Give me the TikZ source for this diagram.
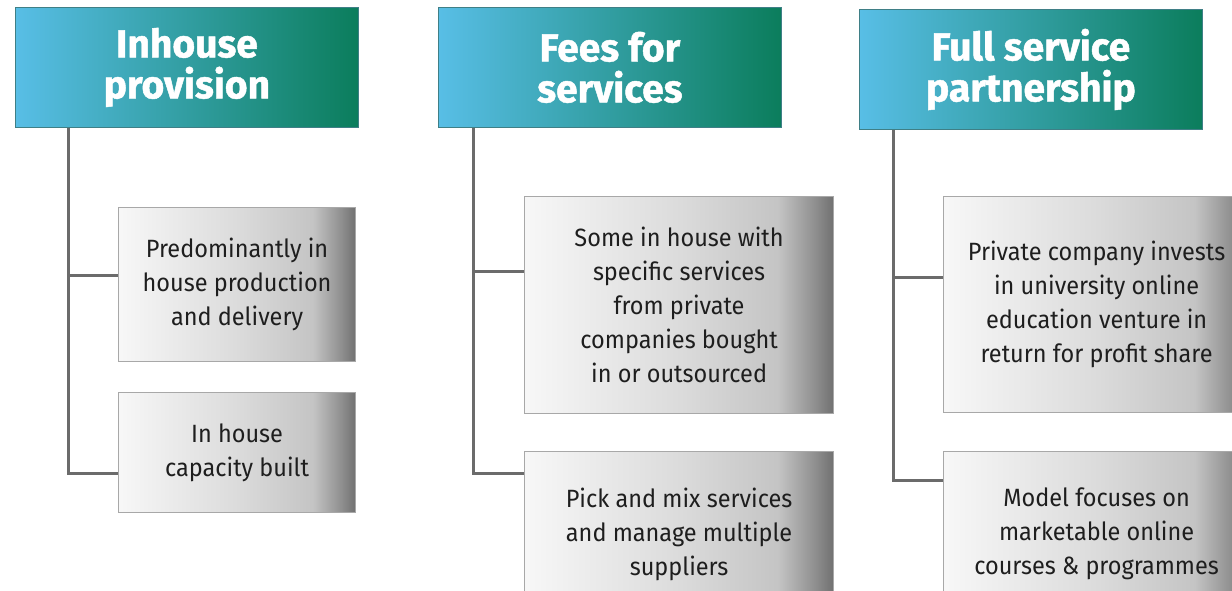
\documentclass[tikz,border=0pt]{standalone}
\usepackage{fontspec}
\setmainfont{Fira Sans}
\newfontfamily\bodyfont[FakeStretch=0.94]{Fira Sans}
\newfontfamily\headfont[FakeBold=1.2]{Fira Sans}
\definecolor{hdleft}{HTML}{58BEE6}
\definecolor{hdright}{HTML}{0B7D5C}
\definecolor{hdborder}{HTML}{3F7F86}
\definecolor{ga}{gray}{0.97}
\definecolor{gb}{gray}{0.86}
\definecolor{gc}{gray}{0.77}
\definecolor{gd}{gray}{0.56}
\definecolor{ge}{gray}{0.44}
\definecolor{connc}{HTML}{6B6B6B}
\definecolor{boxborder}{HTML}{A8A8A8}
\definecolor{bodytext}{HTML}{1E1E1E}
\pgfdeclarehorizontalshading{boxshade}{100bp}{color(0bp)=(ga); color(25bp)=(ga); color(50bp)=(gb); color(66bp)=(gc); color(72bp)=(gd); color(75bp)=(ge); color(100bp)=(ge)}
\tikzset{
  hdrbox/.style={draw=hdborder, line width=0.8pt, left color=hdleft, right color=hdright,
    minimum width=343pt, minimum height=120pt, anchor=north west, align=center,
    text=white, font=\headfont\bfseries\fontsize{39}{41}\selectfont, inner sep=0pt},
  itembox/.style={draw=boxborder, line width=1.2pt, shading=boxshade,
    anchor=north west, align=center, text=bodytext, inner sep=0pt,
    font=\bodyfont\fontsize{25}{34}\selectfont},
  conn/.style={draw=connc, line width=3pt}
}
\begin{document}
\begin{tikzpicture}[x=1pt,y=-1pt]
\useasboundingbox (0,0) rectangle (1232,590);
% headers
\node[hdrbox] (h1) at (15,7) {Inhouse\\provision};
\node[hdrbox] (h2) at (438,7) {Fees for\\services};
\node[hdrbox] (h3) at (859,9) {Full service\\partnership};
% item boxes
\node[itembox, minimum width=237pt, minimum height=154pt] (b1a) at (118,207) {Predominantly in\\house production\\and delivery};
\node[itembox, minimum width=237pt, minimum height=120pt] (b1b) at (118,392) {In house\\capacity built};
\node[itembox, minimum width=309pt, minimum height=217pt] (b2a) at (524,196) {Some in house with\\specific services\\from private\\companies bought\\in or outsourced};
\node[itembox, minimum width=309pt, minimum height=165pt] (b2b) at (524,451) {Pick and mix services\\and manage multiple\\suppliers};
\node[itembox, minimum width=306pt, minimum height=216pt] (b3a) at (943,196) {Private company invests\\in university online\\education venture in\\return for profit share};
\node[itembox, minimum width=306pt, minimum height=165pt] (b3b) at (943,451) {Model focuses on\\marketable online\\courses \& programmes};
% connectors
\draw[conn] ([xshift=53pt]h1.south west) |- ([yshift=-68pt]b1a.north west);
\draw[conn] ([xshift=53pt]h1.south west) |- ([yshift=-81pt]b1b.north west);
\draw[conn] ([xshift=35pt]h2.south west) |- ([yshift=-75pt]b2a.north west);
\draw[conn] ([xshift=35pt]h2.south west) |- ([yshift=-22pt]b2b.north west);
\draw[conn] ([xshift=34pt]h3.south west) |- ([yshift=-81pt]b3a.north west);
\draw[conn] ([xshift=34pt]h3.south west) |- ([yshift=-29pt]b3b.north west);
\end{tikzpicture}
\end{document}
